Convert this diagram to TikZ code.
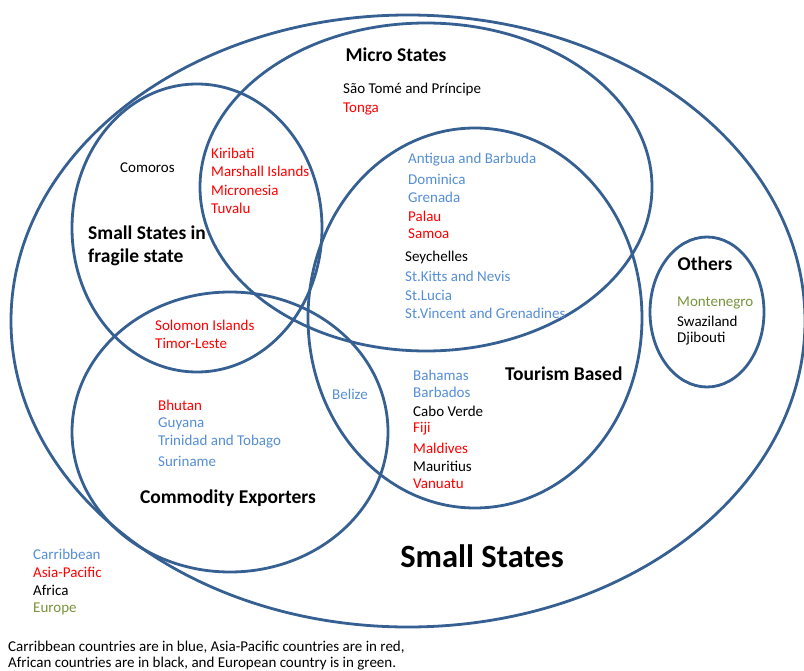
\documentclass[tikz,border=0pt]{standalone}
\usepackage{fontspec}
\setmainfont{Carlito}
\definecolor{setblue}{RGB}{54,96,146}
\definecolor{caribblue}{RGB}{85,142,213}
\definecolor{pacred}{RGB}{255,0,0}
\definecolor{eurogreen}{RGB}{119,147,60}

\begin{document}
\begin{tikzpicture}[x=1pt, y=-1pt,
        setline/.style={draw=setblue, line width=2.8pt},
        country/.style={anchor=west, inner sep=0pt, font=\fontsize{15}{16}\selectfont},
        setname/.style={inner sep=0pt, font=\fontsize{19.5}{23}\selectfont\bfseries}]
        \useasboundingbox (0,0) rectangle (804,671);
        % Sets
        \draw[setline] (408,321) ellipse [x radius=397, y radius=306];
        \draw[setline] (426,187) ellipse [x radius=226, y radius=164];
        \draw[setline] (475,318) ellipse [x radius=167, y radius=190];
        \draw[setline] (197,228) ellipse [x radius=125, y radius=144];
        \draw[setline] (230,432) ellipse [x radius=158, y radius=140];
        \draw[setline] (707,312) ellipse [x radius=57, y radius=75];
        % Set names
        \node[setname] (micro) at (396,55) {Micro States};
        \node[setname, anchor=west, align=left] (fragile) at (88,246) {Small States in\\fragile state};
        \node[setname] (others) at (705,264) {Others};
        \node[setname, anchor=west] (tourism) at (505,374) {Tourism Based};
        \node[setname] (commodity) at (228,498) {Commodity Exporters};
        \node[inner sep=0pt, font=\fontsize{32.5}{36}\selectfont\bfseries] (small) at (482,556) {Small States};
        % Countries
        \foreach \y/\name/\col in {90/São Tomé and Príncipe/black, 109/Tonga/pacred} {
          \node[country, text=\col] (m\y) at (343,\y) {\name};
        }
        \node[country] (comoros) at (120,168) {Comoros};
        \foreach \y/\name in {153/Kiribati, 171/Marshall Islands, 190/Micronesia, 208/Tuvalu} {
          \node[country, text=pacred] (f\y) at (211,\y) {\name};
        }
        \foreach \y/\name/\col in {160/Antigua and Barbuda/caribblue, 179/Dominica/caribblue,
            197/Grenada/caribblue, 216/Palau/pacred, 234/Samoa/pacred} {
          \node[country, text=\col] (t\y) at (408,\y) {\name};
        }
        \foreach \y/\name/\col in {258/Seychelles/black, 276/St.Kitts and Nevis/caribblue,
            295/St.Lucia/caribblue, 313/St.Vincent and Grenadines/caribblue} {
          \node[country, text=\col] (t\y) at (405,\y) {\name};
        }
        \foreach \y/\name/\col in {303/Montenegro/eurogreen, 321/Swaziland/black, 339/Djibouti/black} {
          \node[country, text=\col] (o\y) at (677,\y) {\name};
        }
        \foreach \y/\name in {325/Solomon Islands, 343/Timor-Leste} {
          \node[country, text=pacred] (s\y) at (155,\y) {\name};
        }
        \node[country, text=caribblue] (belize) at (332,394) {Belize};
        \foreach \y/\name/\col in {375/Bahamas/caribblue, 392/Barbados/caribblue, 411/Cabo Verde/black,
            429/Fiji/pacred, 448/Maldives/pacred, 466/Mauritius/black, 484/Vanuatu/pacred} {
          \node[country, text=\col] (b\y) at (413,\y) {\name};
        }
        \foreach \y/\name/\col in {405/Bhutan/pacred, 424/Guyana/caribblue,
            442/Trinidad and Tobago/caribblue, 461/Suriname/caribblue} {
          \node[country, text=\col] (c\y) at (158,\y) {\name};
        }
        % Legend
        \foreach \y/\name/\col in {554/Carribbean/caribblue, 572/Asia-Pacific/pacred,
            590/Africa/black, 609/Europe/eurogreen} {
          \node[country, text=\col] (l\y) at (33,\y) {\name};
        }
        \node[country, align=left] (note) at (8,656) {Carribbean countries are in blue, Asia-Pacific countries are in red,\\African countries are in black, and European country is in green.};
\end{tikzpicture}
\end{document}
